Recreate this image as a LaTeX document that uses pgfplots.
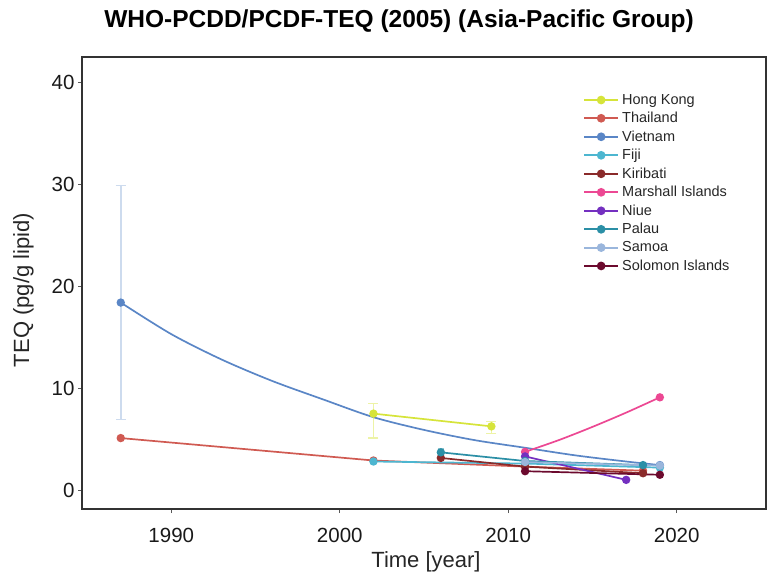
\documentclass[border=0pt]{standalone}
\usepackage{fontspec}
\setmainfont{Liberation Sans}
\usepackage{pgfplots}
\pgfplotsset{compat=1.18}
\definecolor{chk}{HTML}{D6E43A}
\definecolor{cth}{HTML}{D05A52}
\definecolor{cvn}{HTML}{5A86C6}
\definecolor{cfj}{HTML}{4DB6D0}
\definecolor{cki}{HTML}{8A2A2A}
\definecolor{cmi}{HTML}{EC4893}
\definecolor{cnu}{HTML}{7430C0}
\definecolor{cpw}{HTML}{2B8FA6}
\definecolor{csm}{HTML}{9AB6DC}
\definecolor{csb}{HTML}{6C0A2E}
\begin{document}
\begin{tikzpicture}[x=1pt,y=1pt]
\useasboundingbox (0,0) rectangle (768,575);
\begin{axis}[
  at={(82pt,66pt)}, anchor=south west,
  scale only axis, width=684pt, height=452pt,
  xmin=1984.7, xmax=2025.3, ymin=-1.86, ymax=42.5,
  xtick={1990,2000,2010,2020}, ytick={0,10,20,30,40},
  tick align=outside, major tick length=4pt,
  xtick pos=bottom, ytick pos=left,
  tick style={gray!70!black, line width=0.8pt},
  axis line style={black!80, line width=1.1pt},
  /pgf/number format/assume math mode=true,
  ticklabel style={font=\fontsize{20.5}{24}\selectfont, text=black!90},
  xticklabel style={/pgf/number format/1000 sep={}, yshift=-12pt},
  yticklabel style={xshift=0pt},
  legend style={draw=none, fill=none, at={(0.728,0.925)}, anchor=north west,
    font=\fontsize{14.5}{16}\selectfont, row sep=4.1pt,
    nodes={inner sep=1.2pt, text=black!85}},
  legend cell align=left,
  legend image code/.code={
    \draw[#1,mark=none,line width=2pt] (0pt,0pt) -- (34pt,0pt);
    \draw[#1,line width=2pt,mark indices={1}] plot coordinates {(17pt,0pt)};
    \path (36pt,0pt);},
  every axis plot/.append style={line width=1.7pt, mark=*, mark size=3.3pt},
]
% error bars (drawn first)
\addplot[forget plot, draw=none, mark=none, error bars/.cd, y dir=both, y explicit,
  error bar style={color=cvn!30, line width=1.6pt}, error mark options={rotate=90, mark size=5pt, color=cvn!30, line width=1.2pt}]
  table[x=x, y=y, y error plus=ep, y error minus=em] {
x y ep em
1987 18.4 11.5 11.5
};
\addplot[forget plot, draw=none, mark=none, error bars/.cd, y dir=both, y explicit,
  error bar style={color=chk!45, line width=1.6pt}, error mark options={rotate=90, mark size=5pt, color=chk!45, line width=1.2pt}]
  table[x=x, y=y, y error plus=ep, y error minus=em] {
x y ep em
2002 7.5 1.0 2.4
2009 6.25 0.5 0.7
};
\addplot[forget plot, draw=none, mark=none, error bars/.cd, y dir=both, y explicit,
  error bar style={color=cpw!50, line width=1.6pt}, error mark options={rotate=90, mark size=3pt, color=cpw!50, line width=1.2pt}]
  table[x=x, y=y, y error plus=ep, y error minus=em] {
x y ep em
2006 3.7 0.35 0.35
};
% series
\addplot[color=chk, mark options={fill=chk}] table {
2002 7.5
2009 6.25
};
\addlegendentry{Hong Kong}
\addplot[color=cth, mark options={fill=cth}] table {
1987 5.1
2002 2.9
2011 2.3
2018 1.9
};
\addlegendentry{Thailand}
\addplot[color=cvn, mark options={fill=cvn}, smooth, mark indices={1,12}] table {
1987 18.4
1990 15.3
1993 12.8
1996 10.7
1999 8.9
2002 7.15
2005 5.9
2008 4.9
2011 4.15
2014 3.4
2017 2.8
2019 2.45
};
\addlegendentry{Vietnam}
\addplot[color=cfj, mark options={fill=cfj}] table {
2002 2.8
2011 2.6
2019 2.2
};
\addlegendentry{Fiji}
\addplot[color=cki, mark options={fill=cki}] table {
2006 3.15
2011 2.3
2018 1.65
};
\addlegendentry{Kiribati}
\addplot[color=cmi, mark options={fill=cmi}, smooth, mark indices={1,5}] table {
2011 3.75
2013 4.9
2015 6.2
2017 7.6
2019 9.1
};
\addlegendentry{Marshall Islands}
\addplot[color=cnu, mark options={fill=cnu}] table {
2011 3.3
2017 1.0
};
\addlegendentry{Niue}
\addplot[color=cpw, mark options={fill=cpw}] table {
2006 3.7
2011 2.85
2018 2.45
};
\addlegendentry{Palau}
\addplot[color=csm, mark options={fill=csm}] table {
2011 2.75
2019 2.4
};
\addlegendentry{Samoa}
\addplot[color=csb, mark options={fill=csb}] table {
2011 1.85
2019 1.5
};
\addlegendentry{Solomon Islands}
\end{axis}
\node[anchor=base, font=\fontsize{24.5}{28}\selectfont\bfseries] at (399,547) {WHO-PCDD/PCDF-TEQ (2005) (Asia-Pacific Group)};
\node[anchor=base, font=\fontsize{22}{26}\selectfont, text=black!85] at (426,7) {Time [year]};
\node[anchor=base, rotate=90, font=\fontsize{22}{26}\selectfont, text=black!85] at (29,285) {TEQ (pg/g lipid)};
\end{tikzpicture}
\end{document}
